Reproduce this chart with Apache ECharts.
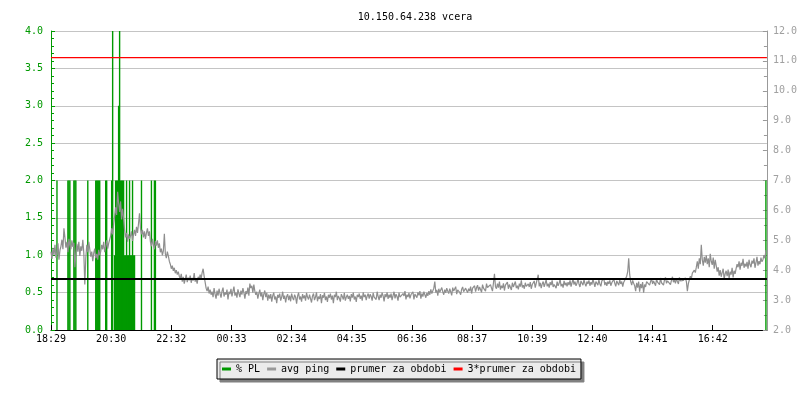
<!DOCTYPE html>
<html>
<head>
<meta charset="utf-8">
<script src="https://cdn.jsdelivr.net/npm/echarts@6/dist/echarts.min.js"></script>
<style>html,body{margin:0;padding:0;background:#fff}#c{width:800px;height:400px}</style>
</head>
<body>
<div id="c"></div>
<script>
// ---- data ----
const titleText = '10.150.64.238 vcera';
const tickLabels = ['18:29','20:30','22:32','00:33','02:34','04:35','06:36','08:37','10:39','12:40','14:41','16:42'];
const tickStepMin = 121;
const spanMin = 1440;
const pingStepMin = 2;
// avg ping [ms], one value every 2 minutes starting 18:29
const pingValues = [
4.62,4.38,4.75,4.50,4.85,4.42,4.58,4.90,4.35,4.66,4.80,5.02,4.70,5.40,5.10,4.75,4.95,4.60,5.05,4.82,
4.70,5.00,4.78,4.92,4.10,4.55,4.88,4.62,4.95,4.48,4.80,4.65,5.02,4.58,3.52,4.40,4.85,4.60,4.95,4.70,
4.45,4.62,4.30,4.58,4.72,4.40,4.55,4.35,4.68,4.50,4.62,4.85,4.70,4.95,4.60,4.80,5.00,4.72,4.90,4.85,
5.15,5.40,5.20,5.55,5.80,6.10,5.85,6.62,6.25,5.95,6.30,5.70,6.05,5.75,5.35,5.10,5.25,4.95,5.20,5.05,
5.15,5.30,4.98,5.20,5.35,5.15,5.45,5.25,5.55,5.90,5.40,5.20,5.35,5.10,5.30,5.05,5.25,5.40,5.15,5.30,
4.95,4.80,5.05,4.85,4.70,4.98,4.82,5.00,4.75,4.90,4.60,4.72,4.50,4.65,5.22,4.55,4.40,4.62,4.48,4.30,
4.20,4.05,4.15,3.98,4.08,3.90,4.00,3.85,3.95,3.80,3.72,3.88,3.62,3.78,3.55,3.70,3.85,3.60,3.75,3.66,
3.82,3.58,3.74,3.65,3.90,3.62,3.70,3.55,3.78,3.68,3.85,3.72,3.92,4.05,3.80,3.60,3.40,3.30,3.45,3.22,
3.35,3.18,3.28,3.10,3.40,3.20,3.05,3.32,3.15,3.38,3.22,3.08,3.30,3.42,3.12,3.26,3.18,3.35,3.02,3.28,
3.20,3.38,3.12,3.30,3.45,3.15,3.25,3.08,3.36,3.22,3.10,3.32,3.18,3.40,3.25,3.05,3.30,3.20,3.42,3.15,
3.55,3.40,3.48,3.25,3.52,3.30,3.18,3.28,3.05,3.22,3.35,3.12,3.26,3.00,3.20,3.32,3.10,3.24,2.98,3.18,
3.05,3.20,2.95,3.15,3.25,3.02,3.12,2.90,3.18,3.08,3.22,2.98,3.10,3.28,3.04,3.15,2.92,3.12,3.20,3.00,
3.15,2.96,3.22,3.08,3.00,3.18,3.10,2.88,3.14,3.25,3.02,3.12,2.95,3.20,3.06,3.16,2.98,3.24,3.10,3.02,
3.18,3.05,2.92,3.14,3.22,3.00,3.10,3.26,2.96,3.12,3.04,3.20,2.90,3.16,3.08,3.24,3.00,3.12,2.94,3.18,
3.08,3.22,3.02,3.15,2.90,3.18,3.10,3.28,3.00,3.14,3.06,2.95,3.20,3.12,3.02,3.24,2.98,3.10,3.18,3.04,
3.14,2.96,3.20,3.08,3.25,3.02,3.12,2.94,3.18,3.10,3.22,3.04,3.15,2.98,3.26,3.10,3.18,3.00,3.14,3.22,
3.05,3.20,3.12,2.98,3.24,3.10,3.16,3.02,3.28,3.12,3.00,3.18,3.08,3.25,3.14,2.96,3.20,3.10,3.26,3.04,
3.18,3.08,3.22,3.00,3.15,3.28,3.06,3.20,3.12,2.98,3.25,3.10,3.16,3.04,3.22,3.14,3.30,3.02,3.18,3.10,
3.24,3.06,3.18,3.12,3.28,3.02,3.20,3.14,3.08,3.26,3.16,3.30,3.05,3.22,3.12,3.28,3.18,3.08,3.24,3.14,
3.30,3.18,3.36,3.22,3.28,3.40,3.62,3.25,3.34,3.15,3.38,3.26,3.20,3.42,3.28,3.18,3.35,3.24,3.40,3.30,
3.22,3.38,3.28,3.16,3.42,3.30,3.24,3.45,3.20,3.34,3.40,3.26,3.18,3.36,3.44,3.28,3.22,3.40,3.32,3.25,
3.38,3.30,3.45,3.22,3.40,3.35,3.48,3.28,3.42,3.50,3.32,3.44,3.38,3.26,3.52,3.40,3.46,3.30,3.55,3.42,
3.48,3.36,3.52,3.40,3.30,3.58,3.88,3.45,3.38,3.55,3.42,3.62,3.35,3.48,3.40,3.56,3.32,3.50,3.44,3.60,
3.38,3.52,3.46,3.34,3.58,3.44,3.50,3.62,3.40,3.48,3.36,3.55,3.45,3.66,3.42,3.50,3.38,3.58,3.46,3.40,
3.54,3.44,3.60,3.38,3.52,3.48,3.64,3.42,3.56,3.50,3.85,3.46,3.58,3.40,3.54,3.62,3.44,3.50,3.68,3.46,
3.55,3.42,3.60,3.50,3.66,3.44,3.52,3.58,3.40,3.62,3.48,3.56,3.70,3.46,3.54,3.42,3.64,3.50,3.58,3.46,
3.60,3.50,3.66,3.45,3.58,3.70,3.52,3.62,3.48,3.56,3.72,3.54,3.44,3.64,3.58,3.50,3.68,3.55,3.46,3.62,
3.54,3.66,3.48,3.60,3.52,3.70,3.58,3.44,3.62,3.56,3.50,3.68,3.54,3.46,3.64,3.58,3.72,3.50,3.60,3.48,
3.62,3.54,3.66,3.48,3.58,3.52,3.70,3.56,3.46,3.64,3.58,3.50,3.68,3.54,3.62,3.45,3.60,3.56,3.66,3.80,
3.95,4.40,3.85,3.62,3.50,3.66,3.56,3.48,3.30,3.58,3.42,3.62,3.28,3.54,3.40,3.60,3.25,3.52,3.44,3.62,
3.56,3.68,3.50,3.62,3.72,3.54,3.64,3.58,3.48,3.70,3.60,3.66,3.52,3.74,3.58,3.62,3.50,3.68,3.76,3.56,
3.64,3.58,3.70,3.52,3.66,3.78,3.60,3.68,3.56,3.72,3.62,3.54,3.76,3.64,3.58,3.70,3.66,3.60,3.74,3.62,
3.30,3.55,3.68,3.80,3.72,3.90,3.85,4.00,3.92,4.10,4.30,4.05,4.40,4.20,4.85,4.35,4.15,4.45,4.25,4.50,
4.20,4.40,4.10,4.55,4.30,4.18,4.42,4.05,4.35,4.15,3.95,4.10,3.82,4.00,3.78,3.92,4.05,3.70,3.88,3.98,
3.80,4.02,3.72,3.95,3.85,4.08,3.76,3.98,3.88,4.05,4.20,4.10,4.30,4.02,4.25,4.15,4.38,4.08,4.22,4.12,
4.28,4.05,4.35,4.18,4.10,4.32,4.22,4.40,4.08,4.25,4.45,4.15,4.30,4.20,4.42,4.28,4.35,4.50,4.40,4.67
];
// packet loss [%]: minute offsets from 18:29 and values
const plMinutes = [12,34,36,38,46,48,50,74,90,92,94,96,98,110,112,122,124,
  128,130,132,134,136,138,140,142,144,146,148,150,152,154,156,158,160,162,164,166,168,
  182,202,208,210,1438];
const plValues = [2,2,2,2,2,2,2,2,2,2,2,2,2,2,2,2,4,
  1,2,2,2,3,4,2,2,2,2,1,1,2,1,1,2,1,1,2,1,1,
  2,2,2,2,2];
const meanPing = 3.707;
const tripleMeanPing = 11.11;

// ---- chart ----
const FONT = 'DejaVu Sans Mono';
const GREEN = '#009900';
const chart = echarts.init(document.getElementById('c'), null, {renderer: 'canvas'});
chart.setOption({
  animation: false,
  backgroundColor: '#ffffff',
  title: {
    text: titleText, left: 410, top: 7, textAlign: 'center',
    textStyle: {fontFamily: FONT, fontSize: 10, fontWeight: 'normal', color: '#000'}
  },
  legend: {
    left: 217, top: 359, orient: 'horizontal',
    padding: [5, 5, 5, 5], itemGap: 7, itemWidth: 9, itemHeight: 3, icon: 'rect',
    backgroundColor: '#ebebeb', borderColor: '#000', borderWidth: 1,
    shadowColor: '#808080', shadowBlur: 0, shadowOffsetX: 3, shadowOffsetY: 3,
    textStyle: {fontFamily: FONT, fontSize: 10, color: '#000'},
    data: ['% PL', 'avg ping', 'prumer za obdobi', '3*prumer za obdobi']
  },
  grid: {left: 51, right: 30, top: 31, bottom: 70},
  xAxis: {
    type: 'value', min: 0, max: spanMin, interval: tickStepMin,
    axisLine: {lineStyle: {color: '#000', width: 1}},
    axisTick: {inside: true, length: 5, lineStyle: {color: '#000'}},
    splitLine: {show: false},
    axisLabel: {
      margin: 4, fontFamily: FONT, fontSize: 10, color: '#000', showMaxLabel: false,
      formatter: v => { const k = Math.round(v / tickStepMin); return (k < tickLabels.length && v < spanMin) ? tickLabels[k] : ''; }
    }
  },
  yAxis: [{
    type: 'value', position: 'left', min: 0, max: 4, interval: 0.5,
    axisLine: {show: true, lineStyle: {color: GREEN}},
    axisTick: {show: true, inside: true, length: 4, lineStyle: {color: GREEN}},
    minorTick: {show: true, splitNumber: 5, length: 3, lineStyle: {color: GREEN}},
    splitLine: {show: true, lineStyle: {color: '#c4c4c4', width: 1}},
    axisLabel: {margin: 8, fontFamily: FONT, fontSize: 10, color: GREEN, formatter: v => v.toFixed(1)}
  }, {
    type: 'value', position: 'right', min: 2, max: 12, interval: 1,
    axisLine: {show: true, lineStyle: {color: '#999'}},
    axisTick: {show: true, inside: true, length: 4, lineStyle: {color: '#999'}},
    minorTick: {show: true, splitNumber: 2, length: 3, lineStyle: {color: '#999'}},
    splitLine: {show: false},
    axisLabel: {margin: 6, fontFamily: FONT, fontSize: 10, color: '#a0a0a0', formatter: v => v.toFixed(1)}
  }],
  series: [{
    name: '% PL', type: 'bar', yAxisIndex: 0, color: GREEN, barWidth: 1.4,
    itemStyle: {color: GREEN}, z: 2,
    data: plMinutes.map((m, k) => [m, plValues[k]])
  }, {
    name: 'avg ping', type: 'line', yAxisIndex: 1, color: '#999999',
    showSymbol: false, symbol: 'none', z: 3,
    lineStyle: {color: '#8e8e8e', width: 1.2},
    data: pingValues.map((v, i) => [i * pingStepMin, v])
  }, {
    name: 'prumer za obdobi', type: 'line', yAxisIndex: 1, color: '#000000',
    showSymbol: false, symbol: 'none', z: 4,
    lineStyle: {color: '#000000', width: 2},
    data: [[0, meanPing], [spanMin, meanPing]]
  }, {
    name: '3*prumer za obdobi', type: 'line', yAxisIndex: 1, color: '#ff0000',
    showSymbol: false, symbol: 'none', z: 4,
    lineStyle: {color: '#ff0000', width: 1.2},
    data: [[0, tripleMeanPing], [spanMin, tripleMeanPing]]
  }]
});
</script>
</body>
</html>
